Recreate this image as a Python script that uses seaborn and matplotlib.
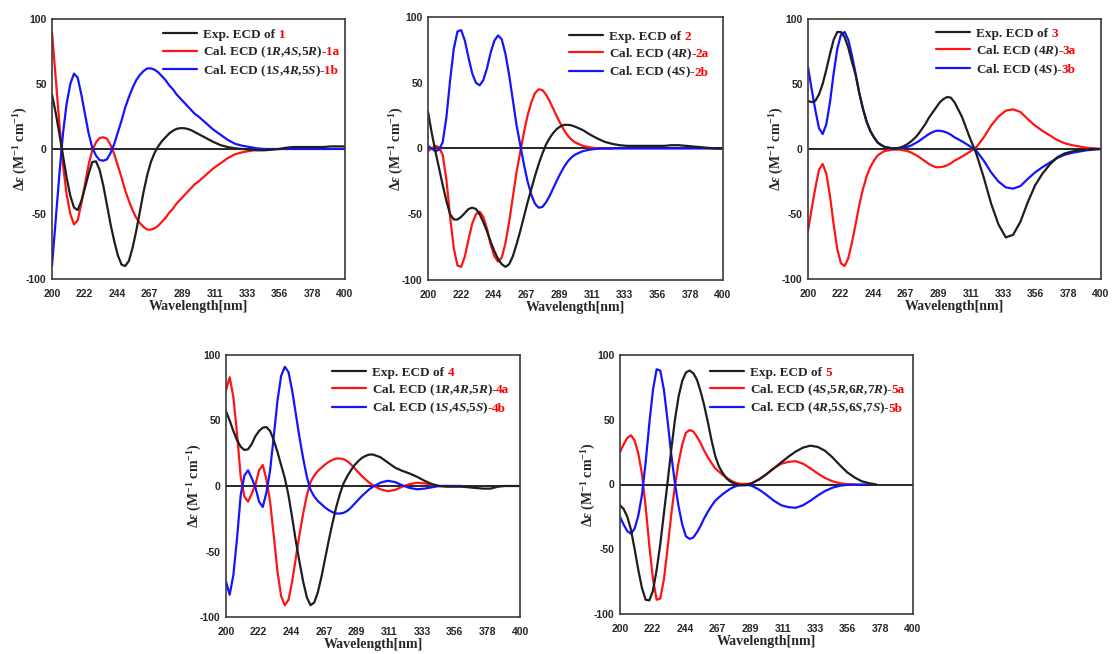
import numpy as np
import pandas as pd
import matplotlib
matplotlib.use("Agg")
import matplotlib.pyplot as plt
import seaborn as sns

nan = np.nan

# ---------------- data ----------------
WL = [200, 202.5, 205, 207.5, 210, 212.5, 215, 217.5, 220, 222.5, 225, 227.5, 230, 232.5, 235,
      237.5, 240, 242.5, 245, 247.5, 250, 252.5, 255, 257.5, 260, 262.5, 265, 267.5, 270, 272.5,
      275, 277.5, 280, 282.5, 285, 287.5, 290, 292.5, 295, 297.5, 300, 305, 310, 315, 320, 325,
      330, 335, 340, 345, 350, 355, 360, 365, 370, 375, 380, 385, 390, 395, 400]

XTICK_LABELS = ["200", "222", "244", "267", "289", "311", "333", "356", "378", "400"]
YTICKS = [-100, -50, 0, 50, 100]
YTICK_LABELS = ["-100", "-50", "0", "50", "100"]

EXP1 = [42, 28, 12, -5, -22, -36, -45, -47, -40, -30, -19, -10, -9.5, -16, -28, -43, -58, -71, -82, -89,
        -90, -86, -76, -63, -48, -33, -20, -10, -3, 2, 6, 9, 12, 14, 15.5, 16, 16, 15.5, 14.5, 13,
        11.5, 8.5, 5.5, 3, 1.5, 0.5, 0, -0.5, -1, -1, -0.5, 0, 1, 1.5, 1.5, 1.5, 1.5, 1.5, 2, 2, 2]
CAL1A = [90, 55, 20, -12, -35, -50, -58, -55, -42, -27, -12, -1, 5, 8.5, 9, 8, 3, -4, -13, -22,
         -32, -40, -47, -53, -57, -60, -62, -62, -61, -59, -56, -53, -49, -46, -42, -39, -36, -33, -30, -27,
         -25, -20, -15, -11, -7, -4, -2.5, -1.5, -0.5, nan, nan, nan, nan, nan, nan, nan, nan, nan, nan, nan, nan]
CAL1B = [-90, -55, -20, 12, 35, 50, 58, 55, 42, 27, 12, 1, -5, -8.5, -9, -8, -3, 4, 13, 22,
         32, 40, 47, 53, 57, 60, 62, 62, 61, 59, 56, 53, 49, 46, 42, 39, 36, 33, 30, 27,
         25, 20, 15, 11, 7, 4, 2.5, 1.5, 0.5, 0, 0, 0, 0, 0, 0, 0, 0, 0, 0, 0, 0]

EXP2 = [28, 12, -2, -15, -28, -40, -50, -54, -54, -52, -49, -46, -45, -46, -50, -56, -63, -71, -78, -84,
        -88, -90, -88, -82, -73, -63, -52, -41, -31, -21, -12, -4, 3, 8, 12, 15, 17, 18, 18, 17.5,
        16.5, 14, 10.5, 7.5, 5, 3.5, 2.5, 2, 2, 2, 2, 2, 2, 2.5, 2.5, 2, 1.5, 1, 0.5, 0, 0]
CAL2A = [-2, 0, 2, 1, -5, -24, -52, -76, -89, -90, -82, -69, -57, -50, -48, -52, -61, -73, -82, -86,
         -83, -72, -56, -37, -18, -3, 12, 25, 35, 42, 45, 44.5, 41, 36, 30, 24, 18.5, 13.5, 9.5, 6.5,
         4.5, 2, 0.8, 0.2, 0, 0, nan, nan, nan, nan, nan, nan, nan, nan, nan, nan, nan, nan, nan, nan, nan]
CAL2B = [2, 0, -2, -1, 5, 24, 52, 76, 89, 90, 82, 69, 57, 50, 48, 52, 61, 73, 82, 86,
         83, 72, 56, 37, 18, 3, -12, -25, -35, -42, -45, -44.5, -41, -36, -30, -24, -18.5, -13.5, -9.5, -6.5,
         -4.5, -2, -0.8, -0.2, 0, 0, 0, 0, 0, 0, 0, 0, 0, 0, 0, 0, 0, 0, 0, 0, 0]

EXP3 = [37, 36, 37, 42, 50, 61, 73, 84, 90, 90, 86, 78, 67, 57, 43, 31, 21, 14, 9, 5,
        3, 1.5, 1, 0.5, 0.5, 1, 2, 3.5, 5.5, 8, 11, 15, 19, 24, 28, 32, 36, 38.5, 40, 39.5,
        36, 25, 10, -4, -22, -42, -58, -68, -66, -56, -41, -28, -19, -12, -6.5, -3.5, -2, -1, -0.5, 0, 0]
CAL3A = [-63, -46, -30, -16, -11.5, -19, -36, -58, -77, -88, -90, -84, -72, -58, -43, -31, -21, -14, -9, -5,
         -3, -1.5, -1, -0.5, -0.5, -0.5, -1, -1.5, -2.5, -4, -5.5, -7.5, -9.5, -11.5, -13, -14, -14, -13.5, -12.5, -11,
         -9, -6, -2.5, 1.5, 9, 18, 25, 29.5, 30.5, 28.5, 23, 18, 14, 10.5, 7, 4.5, 3, 2, 1, 0.5, 0]
CAL3B = [63, 46, 30, 16, 11.5, 19, 36, 58, 77, 88, 90, 84, 72, 58, 43, 31, 21, 14, 9, 5,
         3, 1.5, 1, 0.5, 0.5, 0.5, 1, 1.5, 2.5, 4, 5.5, 7.5, 9.5, 11.5, 13, 14, 14, 13.5, 12.5, 11,
         9, 6, 2.5, -1.5, -9, -18, -25, -29.5, -30.5, -28.5, -23, -18, -14, -10.5, -7, -4.5, -3, -2, -1, -0.5, 0]

EXP4 = [57, 50, 42, 35, 30, 27.5, 28, 32, 38, 42, 44.5, 45, 42, 35, 26, 16, 6, -7, -24, -42,
        -58, -73, -85, -91, -89, -81, -69, -55, -41, -28, -16, -6, 2, 7.5, 12, 16, 19, 21.5, 23, 24,
        24, 22, 18, 14, 11.5, 9.5, 7, 4, 1.5, 0, -0.5, -0.5, -0.5, -1, -1.5, -2, -2, -0.5, 0, 0, 0]
CAL4A = [73, 83, 68, 40, 7, -8, -12, -6, 1, 12, 16, 5, -12, -38, -65, -84, -91, -87, -73, -55,
         -37, -21, -7, 3, 8, 11.5, 14, 16.5, 18.5, 20, 21, 21, 20.5, 19, 16.5, 13.5, 10.5, 7.5, 5, 2.5,
         0.5, -2.5, -4, -3, -0.5, 1.5, 2.5, 2, 1, 0, 0, 0, 0, nan, nan, nan, nan, nan, nan, nan, nan]
CAL4B = [-73, -83, -68, -40, -7, 8, 12, 6, -1, -12, -16, -5, 12, 38, 65, 84, 91, 87, 73, 55,
         37, 21, 7, -3, -8, -11.5, -14, -16.5, -18.5, -20, -21, -21, -20.5, -19, -16.5, -13.5, -10.5, -7.5, -5, -2.5,
         -0.5, 2.5, 4, 3, 0.5, -1.5, -2.5, -2, -1, 0, 0, 0, 0, nan, nan, nan, nan, nan, nan, nan, nan]

EXP5 = [-16, -19, -25, -35, -50, -66, -80, -89, -89.5, -82, -66, -46, -22, 2, 27, 50, 68, 80, 86.5, 88,
        86, 81, 72, 61, 48, 34, 22, 14, 9, 5, 2.5, 1, 0, -0.5, -0.5, 0, 1, 2.5, 4, 6,
        8, 12.5, 17, 21.5, 25.5, 28.5, 30, 29, 26, 21, 15, 9.5, 5.5, 2.5, 1, 0, nan, nan, nan, nan, nan]
CAL5A = [25, 31, 36, 38, 34, 24, 8, -17, -47, -73, -89, -88, -73, -49, -23, -1, 17, 31, 40, 42,
         41, 37, 32, 26, 21, 16.5, 12.5, 10, 7.5, 5.5, 3.5, 2, 1, 0.5, 0.5, 0.5, 1, 2.5, 4, 6,
         8, 12.5, 16, 17.5, 18, 16, 12.5, 8.5, 5, 2.5, 1, 0.3, 0, nan, nan, nan, nan, nan, nan, nan, nan]
CAL5B = [-25, -31, -36, -38, -34, -24, -8, 17, 47, 73, 89, 88, 73, 49, 23, 1, -17, -31, -40, -42,
         -41, -37, -32, -26, -21, -16.5, -12.5, -10, -7.5, -5.5, -3.5, -2, -1, -0.5, -0.5, -0.5, -1, -2.5, -4, -6,
         -8, -12.5, -16, -17.5, -18, -16, -12.5, -8.5, -5, -2.5, -1, -0.3, 0, 0, 0, nan, nan, nan, nan, nan, nan]

LABELS1 = ["Exp. ECD of ", "Cal. ECD (1$R$,4$S$,5$R$)-", "Cal. ECD (1$S$,4$R$,5$S$)-"]
SUFFIX1 = ["1", "1a", "1b"]
LABELS2 = ["Exp. ECD of ", "Cal. ECD (4$R$)-", "Cal. ECD (4$S$)-"]
SUFFIX2 = ["2", "2a", "2b"]
LABELS3 = ["Exp. ECD of ", "Cal. ECD (4$R$)-", "Cal. ECD (4$S$)-"]
SUFFIX3 = ["3", "3a", "3b"]
LABELS4 = ["Exp. ECD of ", "Cal. ECD (1$R$,4$R$,5$R$)-", "Cal. ECD (1$S$,4$S$,5$S$)-"]
SUFFIX4 = ["4", "4a", "4b"]
LABELS5 = ["Exp. ECD of ", "Cal. ECD (4$S$,5$R$,6$R$,7$R$)-", "Cal. ECD (4$R$,5$S$,6$S$,7$S$)-"]
SUFFIX5 = ["5", "5a", "5b"]

# ---------------- style ----------------
sns.set_style("white")
plt.rcParams.update({
    "mathtext.fontset": "custom",
    "mathtext.rm": "Liberation Serif:bold",
    "mathtext.it": "Liberation Serif:italic:bold",
    "mathtext.bf": "Liberation Serif:bold",
    "mathtext.default": "it",
})
plt.rcParams["font.family"] = ["Liberation Serif", "DejaVu Serif"]

BLACK, RED, BLUE = "#1e1e1e", "#ff1414", "#1414ff"
LW = 1.6
SERIF_B = dict(family="Liberation Serif", weight="bold")
LEG_SIZE = 9.5

fig = plt.figure(figsize=(11.13, 6.54), dpi=100)

W, H = 1113.0, 654.0
def rect(l, r, t, b):
    return [l / W, 1 - b / H, (r - l) / W, (b - t) / H]

PANELS = [
    (rect(52, 345, 19, 279), EXP1, CAL1A, CAL1B, LABELS1, SUFFIX1, (0.379, 0.962)),
    (rect(428, 723, 17, 280), EXP2, CAL2A, CAL2B, LABELS2, SUFFIX2, (0.478, 0.948)),
    (rect(808, 1101, 19, 279), EXP3, CAL3A, CAL3B, LABELS3, SUFFIX3, (0.437, 0.966)),
    (rect(226, 520, 355, 617), EXP4, CAL4A, CAL4B, LABELS4, SUFFIX4, (0.360, 0.955)),
    (rect(620, 913, 355, 614), EXP5, CAL5A, CAL5B, LABELS5, SUFFIX5, (0.307, 0.955)),
]

legend_items = []
for r, exp, cal_a, cal_b, labels, suffixes, anchor in PANELS:
    ax = fig.add_axes(r)
    df = pd.DataFrame({"wl": WL, "exp": exp, "a": cal_a, "b": cal_b})
    ax.axhline(0, color="#262626", lw=1.4, zorder=1.5)
    sns.lineplot(data=df, x="wl", y="a", color=RED, lw=LW, ax=ax, legend=False, zorder=2)
    line_a = ax.lines[-1]
    sns.lineplot(data=df, x="wl", y="b", color=BLUE, lw=LW, ax=ax, legend=False, zorder=2.1)
    line_b = ax.lines[-1]
    sns.lineplot(data=df, x="wl", y="exp", color=BLACK, lw=LW, ax=ax, legend=False, zorder=2.2)
    line_e = ax.lines[-1]

    ax.set_xlim(200, 400)
    ax.set_ylim(-100, 100)
    ax.set_xticks(np.linspace(200, 400, len(XTICK_LABELS)))
    ax.set_xticklabels(XTICK_LABELS)
    ax.set_yticks(YTICKS)
    ax.set_yticklabels(YTICK_LABELS)
    for lab in ax.get_xticklabels() + ax.get_yticklabels():
        lab.set_fontfamily("Liberation Sans")
        lab.set_fontweight("bold")
        lab.set_fontsize(7.5)
    ax.tick_params(axis="both", direction="out", length=3, width=1, color="#333333")
    ax.tick_params(axis="x", pad=4)
    ax.tick_params(axis="y", pad=0.8)
    for sp in ax.spines.values():
        sp.set_color("#3a3a3a")
        sp.set_linewidth(1.2)

    ax.set_xlabel("Wavelength[nm]", fontsize=10, **SERIF_B)
    ax.xaxis.set_label_coords(0.5, -0.08)
    ax.set_ylabel("Δ$ε$ (M$^{-1}$ cm$^{-1}$)", fontsize=10, **SERIF_B)
    ax.yaxis.set_label_coords(-0.074, 0.5)

    leg = ax.legend(handles=[line_e, line_a, line_b], labels=labels,
                    loc="upper left", bbox_to_anchor=anchor, frameon=False,
                    prop=dict(family="Liberation Serif", weight="bold", size=LEG_SIZE),
                    handlelength=2.6, handletextpad=0.45, labelspacing=0.25,
                    borderaxespad=0, borderpad=0)
    legend_items.append((leg, suffixes))

# place the red compound numbers right after each legend text, on the same baseline
fig.canvas.draw()
renderer = fig.canvas.get_renderer()
for leg, suffixes in legend_items:
    for txt, suf in zip(leg.get_texts(), suffixes):
        bb = txt.get_window_extent(renderer)
        _, _, descent = txt._get_layout(renderer)
        x = bb.x1 - (1.5 if "$" in txt.get_text() else 0.0)
        y = bb.y0 + descent
        fig.text(x, y, suf, transform=None, ha="left", va="baseline",
                 color="red", fontsize=LEG_SIZE, zorder=10, **SERIF_B)

fig.savefig("out.png", dpi=100)
